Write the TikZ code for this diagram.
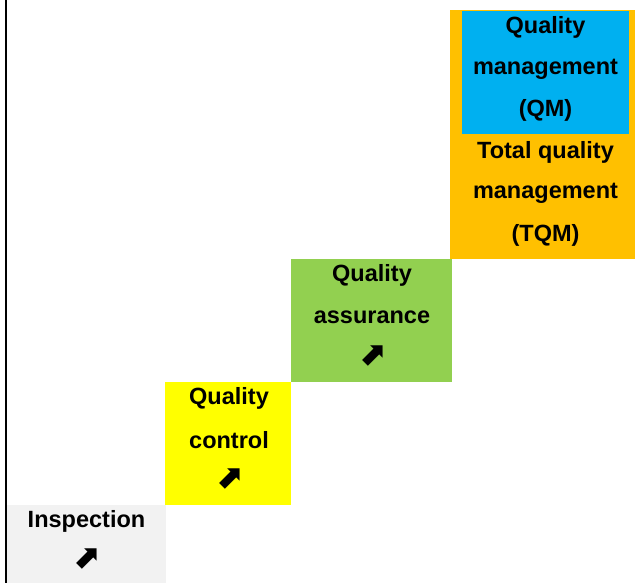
\documentclass[tikz,border=0pt]{standalone}
\usepackage{fontspec}
\setmainfont{Liberation Sans}
\newfontfamily\arrowfont{DejaVu Sans}
\definecolor{inspgray}{HTML}{F2F2F2}
\definecolor{qcyellow}{HTML}{FFFF00}
\definecolor{qagreen}{HTML}{92D050}
\definecolor{tqmorange}{HTML}{FFC000}
\definecolor{qmblue}{HTML}{00B0F0}
\begin{document}
\begin{tikzpicture}[x=1pt,y=-1pt,
  stepbox/.style={draw=none,anchor=north west,inner sep=0pt,outer sep=0pt},
  txt/.style={font=\fontsize{23.5}{28}\selectfont\bfseries,inner sep=0pt,anchor=center},
  arr/.style={font=\arrowfont\fontsize{33}{36}\selectfont\bfseries,inner sep=0pt,anchor=center}]
\useasboundingbox (0,0) rectangle (635,583);
% boxes
\node[stepbox,fill=inspgray,minimum width=159pt,minimum height=78pt] (insp) at (7,505) {};
\node[stepbox,fill=qcyellow,minimum width=126pt,minimum height=123pt] (qc) at (165,382) {};
\node[stepbox,fill=qagreen,minimum width=161pt,minimum height=123pt] (qa) at (291,259) {};
\node[stepbox,fill=tqmorange,minimum width=185pt,minimum height=249pt] (tqm) at (450,10) {};
\node[stepbox,fill=qmblue,minimum width=167pt,minimum height=123pt] (qm) at (462,11) {};
% axis line
\coordinate (axtop) at (6,0);
\coordinate (axbot) at (6,583);
\draw[line width=2pt] (axtop) -- (axbot);
% texts
\node[txt] (insp1) at (86.5,521) {Inspection};
\node[arr] (insp2) at (86.5,559) {⬈};
\node[txt] (qc1) at (229,398) {Quality};
\node[txt] (qc2) at (229,440) {control};
\node[arr] (qc3) at (229,479) {⬈};
\node[txt] (qa1) at (372,275) {Quality};
\node[txt] (qa2) at (372,317) {assurance};
\node[arr] (qa3) at (372,356) {⬈};
\node[txt] (qm1) at (545.5,27) {Quality};
\node[txt] (qm2) at (545.5,69) {management};
\node[txt] (qm3) at (545.5,110) {(QM)};
\node[txt] (tqm1) at (545.5,152) {Total quality};
\node[txt] (tqm2) at (545.5,193) {management};
\node[txt] (tqm3) at (545.5,235) {(TQM)};
\end{tikzpicture}
\end{document}
